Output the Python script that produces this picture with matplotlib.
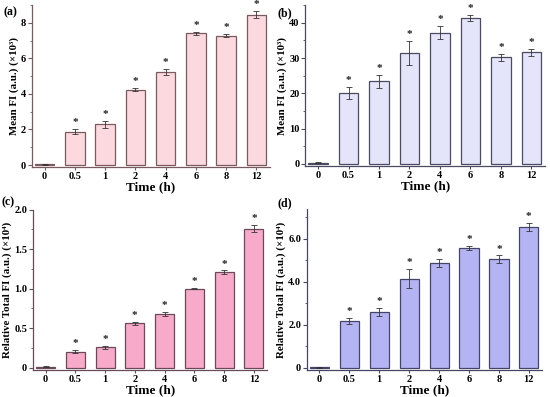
import numpy as np
import matplotlib
matplotlib.use("Agg")
from matplotlib import pyplot as plt
from matplotlib.ticker import AutoMinorLocator

plt.rcParams["font.family"] = ["Liberation Serif", "DejaVu Serif"]
plt.rcParams["font.weight"] = "bold"

times = ["0", "0.5", "1", "2", "4", "6", "8", "12"]

mean_a = [0.05, 1.88, 2.30, 4.25, 5.22, 7.42, 7.28, 8.45]
err_a = [0.03, 0.15, 0.20, 0.10, 0.18, 0.08, 0.08, 0.20]

mean_b = [0.3, 20.0, 23.4, 31.4, 37.2, 41.4, 30.2, 31.6]
err_b = [0.2, 1.7, 1.9, 3.4, 1.8, 0.8, 0.9, 0.9]

total_c = [0.01, 0.20, 0.26, 0.56, 0.68, 1.00, 1.21, 1.76]
err_c = [0.005, 0.02, 0.02, 0.015, 0.03, 0.01, 0.02, 0.04]

total_d = [0.03, 2.18, 2.60, 4.15, 4.87, 5.57, 5.05, 6.57]
err_d = [0.02, 0.15, 0.20, 0.45, 0.20, 0.08, 0.18, 0.18]

W, H = 550, 397

panels = [
    # label, values, errors, colour, edge, ylabel, ylim, yticks, ticklabels,
    # axes rect, label position (pixels)
    ("(a)", mean_a, err_a, "#fbd9df", "#7a5a5e", "Mean FI (a.u.) (×10³)",
     (-0.12, 9.0), [0, 2, 4, 6, 8], ["0", "2", "4", "6", "8"],
     [0.058, 0.579, 0.433, 0.408], (3, 6)),
    ("(b)", mean_b, err_b, "#e4e4fa", "#4a4a62", "Mean FI (a.u.) (×10³)",
     (-0.6, 45.0), [0, 10, 20, 30, 40], ["0", "10", "20", "30", "40"],
     [0.555, 0.582, 0.436, 0.405], (277, 7)),
    ("(c)", total_c, err_c, "#f7aac9", "#6a4a58", "Relative Total FI (a.u.) (×10⁴)",
     (-0.03, 2.0), [0, 0.5, 1.0, 1.5, 2.0], ["0", "0.5", "1.0", "1.5", "2.0"],
     [0.060, 0.068, 0.426, 0.404], (2, 196)),
    ("(d)", total_d, err_d, "#b4b4f4", "#454568", "Relative Total FI (a.u.) (×10⁴)",
     (-0.1, 7.4), [0, 2, 4, 6], ["0", "2.0", "4.0", "6.0"],
     [0.558, 0.068, 0.428, 0.406], (277, 197)),
]

fig = plt.figure(figsize=(5.5, 3.97), dpi=100)
x = np.arange(len(times))

for label, vals, errs, color, edge, ylabel, ylim, yticks, yticklabels, rect, lpos in panels:
    ax = fig.add_axes(rect)
    ax.bar(x, vals, width=0.64, color=color, edgecolor=edge, linewidth=0.9)
    ax.errorbar(x, vals, yerr=errs, fmt="none", ecolor="#333333",
                elinewidth=0.6, capsize=2, capthick=0.6)
    span = ylim[1] - ylim[0]
    for xi, v, e in zip(x[1:], vals[1:], errs[1:]):
        ax.text(xi, v + e + 0.012 * span, "*", ha="center", va="bottom",
                fontsize=8, fontweight="bold", color="#222222")

    ax.set_xlim(-0.42, 7.45)
    ax.set_ylim(*ylim)
    ax.set_xticks(x)
    ax.set_xticklabels(times)
    ax.set_yticks(yticks)
    ax.set_yticklabels(yticklabels)
    ax.yaxis.set_minor_locator(AutoMinorLocator(2))
    ax.spines["top"].set_visible(False)
    ax.spines["right"].set_visible(False)
    for s in ("left", "bottom"):
        ax.spines[s].set_color(edge)
        ax.spines[s].set_linewidth(0.9)
    ax.tick_params(axis="both", labelsize=7.5, length=3, width=0.8, color=edge, pad=1.2)
    ax.tick_params(axis="y", which="minor", length=1.8, width=0.6, color=edge)
    ax.tick_params(axis="x", length=2.5)
    for t in ax.get_xticklabels() + ax.get_yticklabels():
        t.set_fontweight("bold")
    ax.set_xlabel("Time (h)", fontsize=9.5, fontweight="bold", labelpad=0)
    ax.set_ylabel(ylabel, fontsize=7.8, fontweight="bold", labelpad=1.5)

    fig.text(lpos[0] / W, 1 - lpos[1] / H, label, fontsize=8.5,
             fontweight="bold", ha="left", va="top")

fig.savefig("out.png", dpi=100)
